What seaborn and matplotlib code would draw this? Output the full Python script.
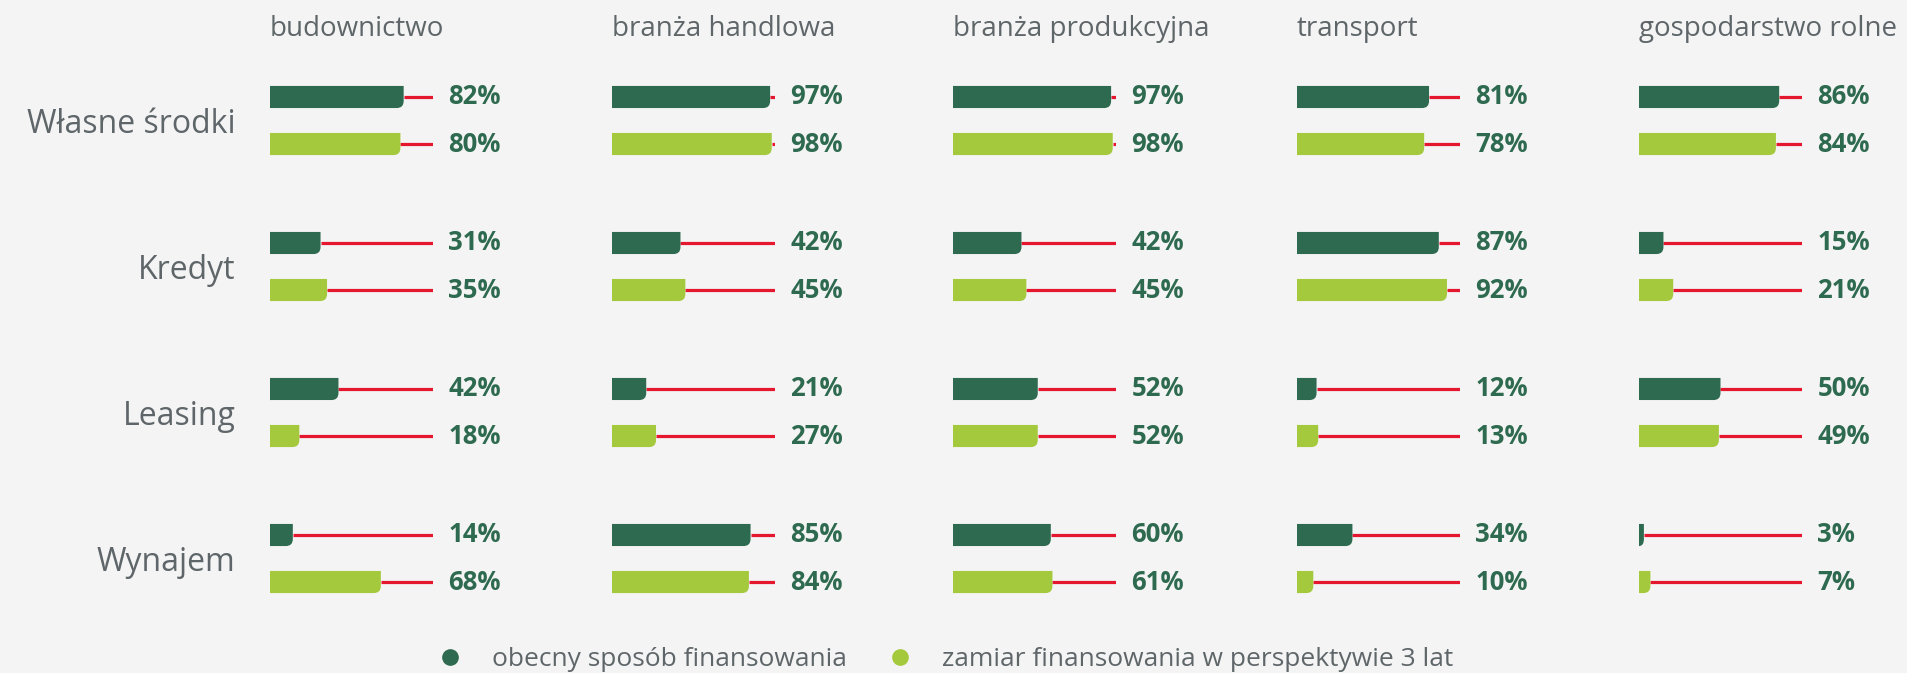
import pandas as pd
import numpy as np
import seaborn as sns
import matplotlib.pyplot as plt
from matplotlib.path import Path
from matplotlib.patches import PathPatch
from matplotlib.lines import Line2D

# dane
sectors = ["budownictwo", "branża handlowa", "branża produkcyjna", "transport", "gospodarstwo rolne"]
sources = ["Własne środki", "Kredyt", "Leasing", "Wynajem"]
series = ["obecny sposób finansowania", "zamiar finansowania w perspektywie 3 lat"]

current_budownictwo = [82, 31, 42, 14]
plan_budownictwo = [80, 35, 18, 68]
current_handlowa = [97, 42, 21, 85]
plan_handlowa = [98, 45, 27, 84]
current_produkcyjna = [97, 42, 52, 60]
plan_produkcyjna = [98, 45, 52, 61]
current_transport = [81, 87, 12, 34]
plan_transport = [78, 92, 13, 10]
current_rolne = [86, 15, 50, 3]
plan_rolne = [84, 21, 49, 7]

current = [current_budownictwo, current_handlowa, current_produkcyjna, current_transport, current_rolne]
plan = [plan_budownictwo, plan_handlowa, plan_produkcyjna, plan_transport, plan_rolne]

rows = []
for s, cur, pl in zip(sectors, current, plan):
    for src, c, p in zip(sources, cur, pl):
        rows.append({"sektor": s, "zrodlo": src, "seria": series[0], "wartosc": c})
        rows.append({"sektor": s, "zrodlo": src, "seria": series[1], "wartosc": p})
df = pd.DataFrame(rows)

# kolory
BG = "#f4f4f4"
DARK = "#2e6a4f"
LIGHT = "#a4c93c"
RED = "#e5172f"
GRAY = "#5f6669"
palette = {series[0]: DARK, series[1]: LIGHT}

sns.set_theme(style="white")
plt.rcParams["font.family"] = ["Open Sans", "DejaVu Sans"]

W, H = 1908, 673
fig = plt.figure(figsize=(W / 100, H / 100), dpi=100, facecolor=BG)

# układ w pikselach
col_left = [270, 612, 953, 1297, 1639]
track_px = 163
row_px = 146
top_px = 47.5
ax_h = 4 * row_px

for i, sec in enumerate(sectors):
    ax = fig.add_axes([col_left[i] / W, (H - top_px - ax_h) / H, track_px / W, ax_h / H])
    ax.set_facecolor("none")
    sub = df[df["sektor"] == sec]
    sns.barplot(data=sub, x="wartosc", y="zrodlo", hue="seria", order=sources,
                hue_order=series, palette=palette, orient="h", width=0.644, gap=0.53,
                legend=False, saturation=1, ax=ax, zorder=3)
    ax.set_xlim(0, 100)
    ax.set_ylim(3.5, -0.5)

    # zaokrąglony prawy dolny róg
    rx = 7 / (track_px / 100)
    ry = 7 / row_px
    bars = list(ax.patches)
    for p in bars:
        x0, y0 = p.get_x(), p.get_y()
        w, h = p.get_width(), p.get_height()
        if w <= 0:
            continue
        x1, y1 = x0 + w, y0 + h
        r_x = min(rx, w)
        verts = [(x0, y0), (x1, y0), (x1, y1 - ry), (x1, y1), (x1 - r_x, y1), (x0, y1), (x0, y0)]
        codes = [Path.MOVETO, Path.LINETO, Path.LINETO, Path.CURVE3, Path.CURVE3, Path.LINETO, Path.CLOSEPOLY]
        ax.add_patch(PathPatch(Path(verts, codes), facecolor=p.get_facecolor(), edgecolor="none", zorder=3))
        p.remove()
        # czerwona linia do 100% i etykieta
        yc = y0 + h / 2
        ax.hlines(yc, x1, 100, color=RED, lw=2.3, zorder=2)
        ax.annotate(f"{w:.0f}%", xy=(100, yc), xytext=(11, 0), textcoords="offset points",
                    ha="left", va="center", fontsize=18.5, fontweight="bold", color=DARK,
                    annotation_clip=False)

    ax.set_title(sec, loc="left", pad=8, fontsize=20, color=GRAY)
    ax.set_xlabel("")
    ax.set_ylabel("")
    ax.set_xticks([])
    sns.despine(ax=ax, left=True, bottom=True)
    ax.tick_params(axis="y", length=0, pad=25, labelsize=23, labelcolor=GRAY)
    if i > 0:
        ax.set_yticklabels([])

handles = [Line2D([0], [0], marker="o", ls="", markersize=11, markerfacecolor=c, markeredgecolor=c)
           for c in (DARK, LIGHT)]
fig.legend(handles, series, loc="center", bbox_to_anchor=(0.492, 0.02), ncol=2, frameon=False,
           fontsize=19, labelcolor=GRAY, handletextpad=0.6, columnspacing=1.0)

fig.savefig("out.png", dpi=100, facecolor=BG)
